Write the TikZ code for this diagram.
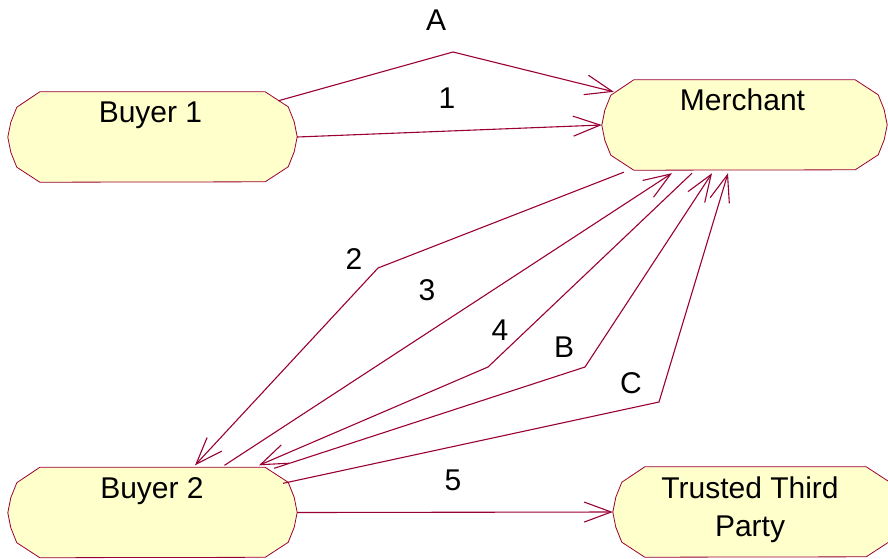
\documentclass[tikz,border=0pt]{standalone}
\usepackage{fontspec}
\setmainfont{Liberation Sans}
\usetikzlibrary{arrows.meta,calc}
\definecolor{rose}{RGB}{153,0,51}
\definecolor{cream}{RGB}{255,255,204}
\newcommand\ucshape[1]{%
  \path[shp] ([xshift=32pt]#1.north west) -- ([xshift=-32pt]#1.north east)
    -- ++(23,15) -- ++(6,15) -- ++(3,15) -- ++(-3,15) -- ++(-6,15) -- ++(-23,15)
    -- ([xshift=32pt]#1.south west)
    -- ++(-23,-15) -- ++(-6,-15) -- ++(-3,-15) -- ++(3,-15) -- ++(6,-15) -- cycle;}
\begin{document}
\begin{tikzpicture}[x=1pt,y=-1pt,
  box/.style={draw=none, minimum height=90pt, inner sep=0pt},
  shp/.style={draw=rose, fill=cream, line width=0.8pt},
  txt/.style={font=\fontsize{30}{38}\selectfont, inner sep=0pt, text=black},
  conn/.style={draw=rose, line width=1.1pt, line join=miter,
    -{Straight Barb[length=27pt,width=20pt,line width=1.1pt]}}]
\useasboundingbox (0,0) rectangle (888,558);
\clip (0,0) rectangle (888,558);
% invisible node boxes
\node[box, minimum width=289pt] (b1) at (152.5,137) {};
\node[box, minimum width=285pt] (m) at (744.5,125) {};
\node[box, minimum width=289pt] (b2) at (152.5,512.5) {};
\node[box, minimum width=285pt] (t) at (755.5,512) {};
% shapes
\ucshape{b1}
\ucshape{m}
\ucshape{b2}
\ucshape{t}
% texts
\node[txt, anchor=base] (b1t) at (150.5,122) {Buyer 1};
\node[txt, anchor=base] (mt) at (742.5,110) {Merchant};
\node[txt, anchor=base] (b2t) at (152,498) {Buyer 2};
\node[txt, anchor=north, align=center] (tt) at (750,476.5) {Trusted Third\\Party};
% connectors
\draw[conn] ($(b1.north east)+(-19,9)$) -- (453,52) -- ($(m.north west)+(12,12)$);
\draw[conn] (b1.east) -- (m.west);
\draw[conn] ($(m.south west)+(22,2)$) -- (378,268) -- ($(b2.north)+(42.5,-2)$);
\draw[conn] ($(b2.north)+(72,-2)$) -- ($(m.south)+(-72.5,3)$);
\draw[conn] ($(m.south)+(-52.5,3)$) -- (488,367) -- ($(b2.north)+(106.5,-2)$);
\draw[conn] ($(b2.north east)+(-23,1)$) -- (585,367) -- ($(m.south)+(-32.5,3)$);
\draw[conn] ($(b2.north east)+(-14,16)$) -- (659,402) -- ($(m.south)+(-16.5,3)$);
\draw[conn] (b2.east) -- (t.west);
% labels
\node[txt] (la) at (436,20) {A};
\node[txt] (l1) at (447,98) {1};
\node[txt] (l2) at (354,259) {2};
\node[txt] (l3) at (427,290) {3};
\node[txt] (l4) at (500,330) {4};
\node[txt] (lb) at (564,347) {B};
\node[txt] (lc) at (631,383) {C};
\node[txt] (l5) at (453,480) {5};
\end{tikzpicture}
\end{document}
